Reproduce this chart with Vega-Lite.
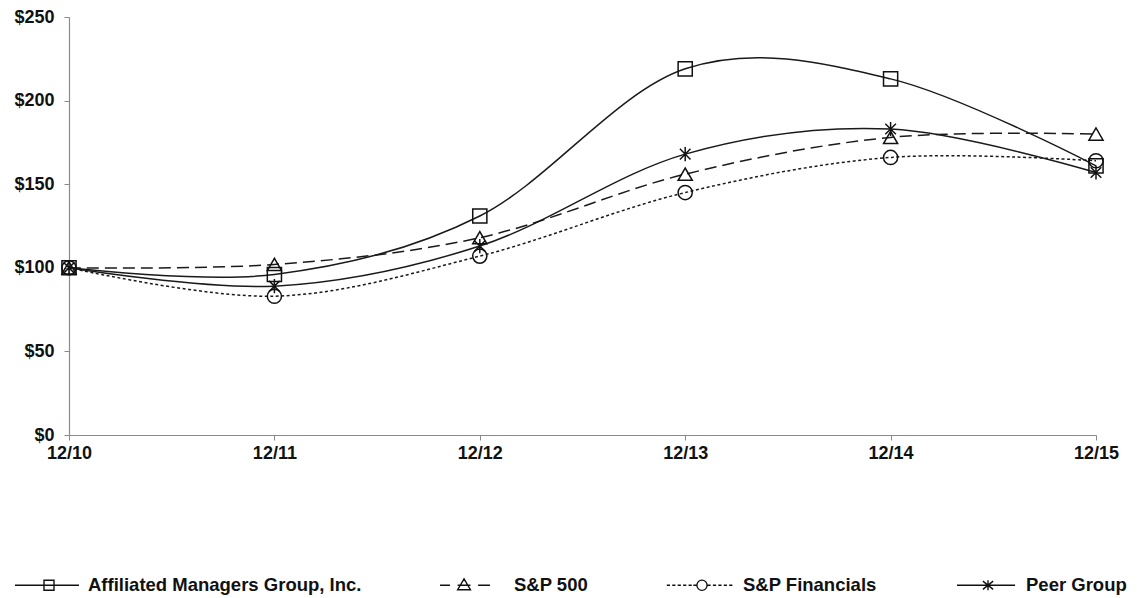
{
  "$schema": "https://vega.github.io/schema/vega-lite/v6.json",
  "autosize": {"type": "none"},
  "width": 1027,
  "height": 418,
  "padding": {"left": 69, "top": 17, "right": 48, "bottom": 163},
  "background": "white",
  "config": {
    "view": {"stroke": null},
    "font": "Liberation Sans",
    "axis": {"grid": false, "domainColor": "#8a8a8a", "tickColor": "#8a8a8a", "domainWidth": 1.2, "tickSize": 5, "labelFont": "Liberation Sans", "labelFontSize": 18, "labelFontWeight": "bold", "labelColor": "#111", "title": null}
  },
  "data": {"values": [
    {"date": "12/10", "series": "Affiliated Managers Group, Inc.", "value": 100},
    {"date": "12/11", "series": "Affiliated Managers Group, Inc.", "value": 96},
    {"date": "12/12", "series": "Affiliated Managers Group, Inc.", "value": 131},
    {"date": "12/13", "series": "Affiliated Managers Group, Inc.", "value": 219},
    {"date": "12/14", "series": "Affiliated Managers Group, Inc.", "value": 213},
    {"date": "12/15", "series": "Affiliated Managers Group, Inc.", "value": 161},
    {"date": "12/10", "series": "S&P 500", "value": 100},
    {"date": "12/11", "series": "S&P 500", "value": 102},
    {"date": "12/12", "series": "S&P 500", "value": 118},
    {"date": "12/13", "series": "S&P 500", "value": 156},
    {"date": "12/14", "series": "S&P 500", "value": 178},
    {"date": "12/15", "series": "S&P 500", "value": 180},
    {"date": "12/10", "series": "S&P Financials", "value": 100},
    {"date": "12/11", "series": "S&P Financials", "value": 83},
    {"date": "12/12", "series": "S&P Financials", "value": 107},
    {"date": "12/13", "series": "S&P Financials", "value": 145},
    {"date": "12/14", "series": "S&P Financials", "value": 166},
    {"date": "12/15", "series": "S&P Financials", "value": 164},
    {"date": "12/10", "series": "Peer Group", "value": 100},
    {"date": "12/11", "series": "Peer Group", "value": 89},
    {"date": "12/12", "series": "Peer Group", "value": 113},
    {"date": "12/13", "series": "Peer Group", "value": 168},
    {"date": "12/14", "series": "Peer Group", "value": 183},
    {"date": "12/15", "series": "Peer Group", "value": 157}
  ]},
  "encoding": {
    "x": {"field": "date", "type": "ordinal", "scale": {"type": "point", "padding": 0},
          "axis": {"labelAngle": 0, "labelPadding": 4}},
    "y": {"field": "value", "type": "quantitative", "scale": {"domain": [0, 250], "nice": false},
          "axis": {"values": [0, 50, 100, 150, 200, 250], "labelExpr": "'$' + datum.value", "labelPadding": 10}}
  },
  "resolve": {"scale": {"shape": "independent"}, "legend": {"shape": "independent"}},
  "layer": [
    {
      "transform": [{"filter": "datum.series == 'Affiliated Managers Group, Inc.' || datum.series == 'Peer Group'"}],
      "mark": {"type": "line", "interpolate": "cardinal", "color": "#1a1a1a", "strokeWidth": 1.5},
      "encoding": {"detail": {"field": "series"}}
    },
    {
      "transform": [{"filter": "datum.series == 'S&P 500'"}],
      "mark": {"type": "line", "interpolate": "cardinal", "color": "#1a1a1a", "strokeWidth": 1.5, "strokeDash": [12, 6]},
      "encoding": {}
    },
    {
      "transform": [{"filter": "datum.series == 'S&P Financials'"}],
      "mark": {"type": "line", "interpolate": "cardinal", "color": "#1a1a1a", "strokeWidth": 1.5, "strokeDash": [3, 2.5]},
      "encoding": {}
    },
    {
      "mark": {"type": "point", "filled": false, "color": "#111", "strokeWidth": 1.5, "opacity": 1},
      "encoding": {
        "shape": {"field": "series", "type": "nominal", "legend": null,
          "scale": {"domain": ["Affiliated Managers Group, Inc.", "S&P 500", "S&P Financials", "Peer Group"],
                    "range": ["square", "triangle-up", "circle", "M0,-1L0,1M-0.75,-0.75L0.75,0.75M-0.75,0.75L0.75,-0.75"]}},
        "size": {"value": 200}
      }
    },
    {
      "mark": {"type": "point", "filled": false, "color": "#111", "strokeWidth": 1.5, "opacity": 0},
      "encoding": {
        "shape": {"field": "series", "type": "nominal",
          "scale": {"domain": ["Affiliated Managers Group, Inc.", "S&P 500", "S&P Financials", "Peer Group"],
                    "range": [
                      "M-1,0L1,0M-0.094,-0.156L0.219,-0.156L0.219,0.156L-0.094,0.156Z",
                      "M-1.03,0L-0.72,0M0.16,0L0.53,0M-0.28,-0.2L-0.08,0.14L-0.48,0.14ZM-0.48,0L-0.08,0",
                      "M-1.1,0L-1.0,0M-0.93,0L-0.83,0M-0.76,0L-0.66,0M-0.59,0L-0.49,0M-0.42,0L-0.32,0M-0.27,0L-0.17,0M0.17,0L0.27,0M0.34,0L0.44,0M0.51,0L0.61,0M0.68,0L0.78,0M0.85,0L0.95,0M0.16,0A0.16,0.16 0 1 1 -0.16,0A0.16,0.16 0 1 1 0.16,0",
                      "M-0.875,0L0.94,0M0.094,-0.16L0.094,0.16M-0.066,-0.13L0.254,0.13M-0.066,0.13L0.254,-0.13"
                    ]},
          "legend": {
            "title": null,
            "orient": "none",
            "legendX": -55,
            "legendY": 535,
            "direction": "horizontal",
            "columns": 4,
            "gridAlign": "each",
            "columnPadding": 75,
            "padding": 0,
            "symbolSize": 4096,
            "symbolStrokeWidth": 1.4,
            "symbolStrokeColor": "#111",
            "symbolFillColor": "transparent",
            "symbolOpacity": 1,
            "labelOffset": 8,
            "labelFont": "Liberation Sans",
            "labelFontSize": 18.5,
            "labelFontWeight": "bold",
            "labelColor": "#111",
            "labelLimit": 400
          }
        },
        "size": {"value": 200}
      }
    }
  ]
}
